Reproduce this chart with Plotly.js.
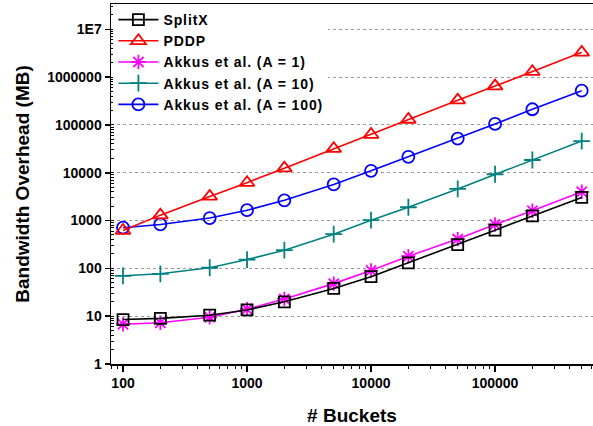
<!DOCTYPE html>
<html>
<head>
<meta charset="utf-8">
<script src="https://cdn.plot.ly/plotly-3.0.1.min.js"></script>
<style>html,body{margin:0;padding:0;background:#fff;}#chart{width:593px;height:426px;}.legendtext{letter-spacing:0.9px;}</style>
</head>
<body>
<div id="chart"></div>
<script>
const buckets = [100, 200, 500, 1000, 2000, 5000, 10000, 20000, 50000, 100000, 200000, 500000];
const splitX = [8.5, 9, 10.5, 13.5, 20, 38, 67, 130, 315, 630, 1250, 3050];
const pddp = [620, 1300, 3200, 6200, 12500, 32000, 63000, 130000, 330000, 650000, 1300000, 3300000];
const akkusA1 = [6.8, 7.3, 9.5, 14, 23, 48, 90, 180, 410, 830, 1600, 4000];
const akkusA10 = [70, 77, 103, 153, 240, 520, 1020, 1900, 4600, 9300, 18500, 46000];
const akkusA100 = [710, 830, 1130, 1650, 2650, 5700, 11000, 21500, 52000, 105000, 213000, 520000];
const seriesNames = ["SplitX", "PDDP", "Akkus et al. (A = 1)", "Akkus et al. (A = 10)", "Akkus et al. (A = 100)"];
const yTickVals = [1, 10, 100, 1000, 10000, 100000, 1000000, 10000000];
const yTickText = ["1", "10", "100", "1000", "10000", "100000", "1000000", "1E7"];
const xTickVals = [100, 1000, 10000, 100000];
const xTickText = ["100", "1000", "10000", "100000"];

const F = "Liberation Sans, Arial, Helvetica, sans-serif";
function tr(y, name, color, symbol, size, rank) {
  return {
    x: buckets, y: y, name: name, type: 'scatter', mode: 'lines+markers', legendrank: rank,
    line: {color: color, width: 1.6},
    marker: {symbol: symbol, size: size, color: color, line: {color: color, width: 1.8}}
  };
}
const tSplit = tr(splitX, seriesNames[0], '#000000', 'square-open', 11, 1);
const tPddp = tr(pddp, seriesNames[1], '#ff0000', 'triangle-up-open', 13, 2);
const tA1 = tr(akkusA1, seriesNames[2], '#ff00ff', 'asterisk-open', 12, 3);
const tA10 = tr(akkusA10, seriesNames[3], '#008080', 'cross-thin-open', 12, 4);
const tA100 = tr(akkusA100, seriesNames[4], '#0000ff', 'circle-open', 12, 5);
const ordered = [tA1, tA10, tA100, tPddp, tSplit];
const layout = {
  width: 593, height: 426,
  margin: {l: 111, r: 0, t: 4, b: 62},
  paper_bgcolor: '#fff', plot_bgcolor: '#fff',
  font: {family: F, color: '#000', size: 14, weight: 'bold'},
  showlegend: true,
  legend: {
    x: 0.005, y: 1.0, xanchor: 'left', yanchor: 'top',
    bgcolor: '#fff', borderwidth: 0,
    font: {family: F, size: 14, weight: 'bold', color: '#000'},
    traceorder: 'normal', tracegroupgap: 0, itemwidth: 40
  },
  shapes: [{
    type: 'rect', xref: 'paper', yref: 'paper', layer: 'below',
    x0: 0.003, x1: 0.44, y0: 0.69, y1: 0.995,
    fillcolor: '#fff', line: {width: 0}
  }],
  xaxis: {
    type: 'log', range: [1.903, 5.79],
    tickvals: xTickVals, ticktext: xTickText,
    ticks: 'outside', ticklen: 6, tickwidth: 1.5, tickcolor: '#000',
    showline: true, linecolor: '#000', linewidth: 1.5, mirror: true,
    showgrid: false, zeroline: false,
    tickfont: {family: F, size: 14, weight: 'bold'},
    minor: {ticks: 'outside', ticklen: 3, tickwidth: 1, tickcolor: '#000', dtick: 'D1', showgrid: false},
    title: {text: '# Buckets', font: {family: F, size: 19, weight: 'bold'}, standoff: 18}
  },
  yaxis: {
    type: 'log', range: [0, 7.53],
    tickvals: yTickVals, ticktext: yTickText,
    ticks: 'outside', ticklen: 5, tickwidth: 1.5, tickcolor: '#000',
    showline: true, linecolor: '#000', linewidth: 1.5,
    showgrid: true, gridcolor: '#999', griddash: 'dot', gridwidth: 1,
    zeroline: false,
    tickfont: {family: F, size: 14, weight: 'bold'},
    minor: {ticks: 'inside', ticklen: 3, tickwidth: 1, tickcolor: '#000', dtick: 'D1', showgrid: false},
    title: {text: 'Bandwidth Overhead (MB)', font: {family: F, size: 19, weight: 'bold'}, standoff: 12}
  }
};
Plotly.newPlot('chart', ordered, layout, {displayModeBar: false, staticPlot: true});
</script>
</body>
</html>
